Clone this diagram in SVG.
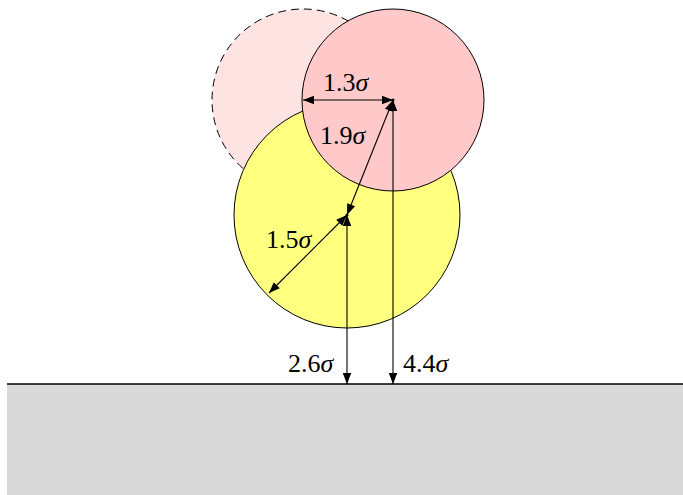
<svg xmlns="http://www.w3.org/2000/svg" width="683" height="495" viewBox="0 0 683 495">
<defs>
<marker id="ah" markerUnits="userSpaceOnUse" markerWidth="12" markerHeight="9" refX="11" refY="4.25" orient="auto-start-reverse" overflow="visible">
<path d="M0,0 L11,4.25 L0,8.5 Z" fill="#000"/>
</marker>
<style>
.c{stroke:#000;stroke-width:1}
.dim{stroke:#000;stroke-width:1.1;fill:none;marker-start:url(#ah);marker-end:url(#ah)}
.lbl{font-family:"Liberation Serif","DejaVu Serif",serif;font-size:26px;fill:#000}
.s{font-style:italic}
</style>
</defs>
<rect width="683" height="495" fill="#fff"/>
<g id="ground">
<rect x="7" y="384" width="676" height="111" fill="#d9d9d9"/>
<line x1="7" y1="384" x2="683" y2="384" stroke="#000" stroke-width="1.3"/>
</g>
<g id="ghost">
<circle cx="303" cy="100" r="91" fill="#fee3e3" class="c" stroke-dasharray="8,5"/>
</g>
<g id="yellow">
<circle cx="347" cy="215" r="113" fill="#ffff80" class="c"/>
</g>
<g id="pink">
<circle cx="393" cy="100" r="91" fill="#ffc9c9" class="c"/>
</g>
<g id="connectors">
<line class="dim" x1="303" y1="100" x2="393" y2="100"/>
<line class="dim" x1="393" y1="100" x2="347" y2="215"/>
<line class="dim" x1="347" y1="215" x2="269" y2="293"/>
<line class="dim" x1="347" y1="215" x2="347" y2="384"/>
<line class="dim" x1="393" y1="100" x2="393" y2="384"/>
<circle cx="393" cy="100" r="1.5" fill="#000"/>
<circle cx="347" cy="215" r="1.5" fill="#000"/>
</g>
<g id="labels">
<text class="lbl" x="323" y="91">1.3<tspan class="s">σ</tspan></text>
<text class="lbl" x="320" y="144">1.9<tspan class="s">σ</tspan></text>
<text class="lbl" x="266" y="248">1.5<tspan class="s">σ</tspan></text>
<text class="lbl" x="288" y="372">2.6<tspan class="s">σ</tspan></text>
<text class="lbl" x="403" y="372">4.4<tspan class="s">σ</tspan></text>
</g>
</svg>
